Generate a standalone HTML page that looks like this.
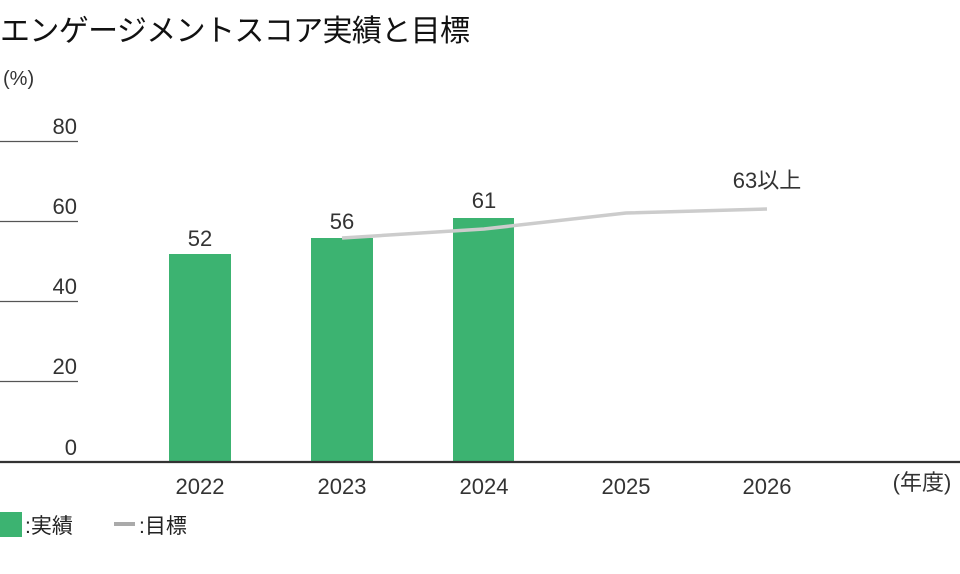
<!DOCTYPE html>
<html><head><meta charset="utf-8"><style>
body{margin:0;background:#fff;}
svg{display:block;font-family:"Liberation Sans","Noto Sans CJK JP",sans-serif;}
</style></head><body>
<svg width="960" height="574" viewBox="0 0 960 574">
<text x="0" y="41" font-size="30" fill="#111" textLength="470">エンゲージメントスコア実績と目標</text>
<text x="3" y="85" font-size="20" fill="#333">(%)</text>
<g stroke="#555" stroke-width="1.3">
<line x1="0" y1="141.5" x2="78" y2="141.5"/>
<line x1="0" y1="221.5" x2="78" y2="221.5"/>
<line x1="0" y1="301.5" x2="78" y2="301.5"/>
<line x1="0" y1="381.5" x2="78" y2="381.5"/>
</g>
<g font-size="22" fill="#333" text-anchor="end">
<text x="77" y="134">80</text>
<text x="77" y="214">60</text>
<text x="77" y="294">40</text>
<text x="77" y="374">20</text>
<text x="77" y="455">0</text>
</g>
<g fill="#3cb371">
<rect x="169" y="254" width="62" height="208"/>
<rect x="311" y="238" width="62" height="224"/>
<rect x="453" y="218" width="61" height="244"/>
</g>
<polyline points="342,238 484,229 626,213 767,209" fill="none" stroke="#cccccc" stroke-width="3.5"/>
<line x1="0" y1="462" x2="960" y2="462" stroke="#333" stroke-width="2.2"/>
<g font-size="22" fill="#333" text-anchor="middle">
<text x="200" y="246">52</text>
<text x="342" y="229">56</text>
<text x="484" y="208">61</text>
<text x="767" y="188">63以上</text>
<text x="200" y="494">2022</text>
<text x="342" y="494">2023</text>
<text x="484" y="494">2024</text>
<text x="626" y="494">2025</text>
<text x="767" y="494">2026</text>
<text x="922" y="490">(年度)</text>
</g>
<rect x="0" y="512" width="22" height="25" fill="#3cb371"/>
<text x="25" y="533" font-size="21" fill="#222">:実績</text>
<line x1="114" y1="524" x2="135" y2="524" stroke="#aaa" stroke-width="4"/>
<text x="139" y="533" font-size="21" fill="#222">:目標</text>
</svg>
</body></html>
